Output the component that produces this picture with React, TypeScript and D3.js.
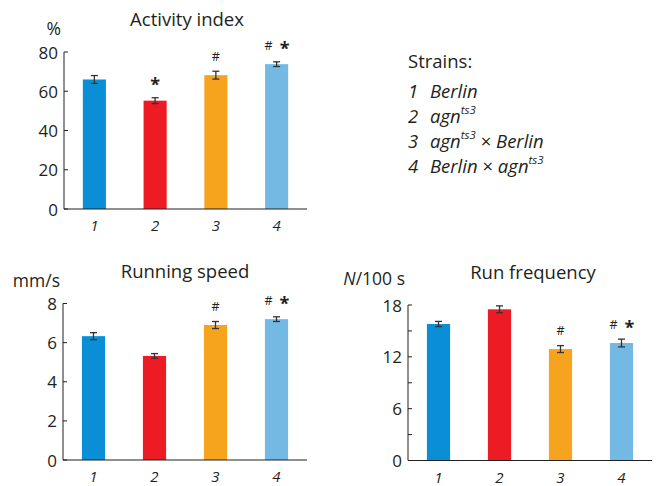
import React from "react";
import * as d3 from "d3";

const strains = ["1", "2", "3", "4"];
const colors = ["#0a8fd6", "#ed1c24", "#f6a41e", "#74b8e4"];

const activityValues = [66, 55.2, 68.2, 73.8];
const activityErrors = [2, 1.5, 2, 1.2];
const activityTicks = [0, 20, 40, 60, 80];
const activityMarks = ["", "*", "#", "# *"];

const speedValues = [6.33, 5.32, 6.9, 7.2];
const speedErrors = [0.18, 0.12, 0.18, 0.12];
const speedTicks = [0, 2, 4, 6, 8];
const speedMarks = ["", "", "#", "# *"];

const freqValues = [15.8, 17.5, 12.9, 13.6];
const freqErrors = [0.3, 0.4, 0.4, 0.45];
const freqTicks = [0, 3, 6, 9, 12, 15, 18];
const freqLabelTicks = [0, 6, 12, 18];
const freqMarks = ["", "", "#", "# *"];

const FONT = "'Open Sans', sans-serif";
const INK = "#231f20";

type PanelProps = {
  x0: number;
  x1: number;
  yTop: number;
  yBottom: number;
  max: number;
  values: number[];
  errors: number[];
  ticks: number[];
  labelTicks: number[];
  marks: string[];
  title: string;
  titleX: number;
  titleY: number;
  unit: React.ReactNode;
  unitY: number;
};

function Panel(p: PanelProps) {
  const x = d3.scaleBand<string>().domain(strains).range([p.x0, p.x1]).paddingInner(0.62).paddingOuter(0.31);
  const y = d3.scaleLinear().domain([0, p.max]).range([p.yBottom, p.yTop]);
  const bw = x.bandwidth();
  return (
    <g>
      <text x={p.titleX} y={p.titleY} textAnchor="middle" dominantBaseline="central" fontSize={18.5} fill={INK}>
        {p.title}
      </text>
      <text x={p.x0 - 3} y={p.unitY} textAnchor="end" dominantBaseline="central" fontSize={17.5} fill={INK}>
        {p.unit}
      </text>
      {p.values.map((v, i) => {
        const cx = (x(strains[i]) as number) + bw / 2;
        return (
          <g key={i}>
            <rect x={x(strains[i])} y={y(v)} width={bw} height={y(0) - y(v)} fill={colors[i]} />
            <line x1={cx} x2={cx} y1={y(v - p.errors[i])} y2={y(v + p.errors[i])} stroke="#333" strokeWidth={1.3} />
            <line x1={cx - 3.5} x2={cx + 3.5} y1={y(v - p.errors[i])} y2={y(v - p.errors[i])} stroke="#333" strokeWidth={1.3} />
            <line x1={cx - 3.5} x2={cx + 3.5} y1={y(v + p.errors[i])} y2={y(v + p.errors[i])} stroke="#333" strokeWidth={1.3} />
            {p.marks[i] === "# *" ? (
              <g>
                <text x={cx - 8} y={y(v) - 19} textAnchor="middle" dominantBaseline="central" fontSize={12.5} fill={INK}>#</text>
                <text x={cx + 8} y={y(v) - 16.5} textAnchor="middle" dominantBaseline="central" fontSize={18} fontWeight="bold" fill={INK}>*</text>
              </g>
            ) : p.marks[i] === "*" ? (
              <text x={cx} y={y(v) - 16.5} textAnchor="middle" dominantBaseline="central" fontSize={18} fontWeight="bold" fill={INK}>*</text>
            ) : p.marks[i] === "#" ? (
              <text x={cx} y={y(v) - 19} textAnchor="middle" dominantBaseline="central" fontSize={12.5} fill={INK}>#</text>
            ) : null}
            <text x={cx} y={p.yBottom + 16} textAnchor="middle" dominantBaseline="central" fontSize={15} fontStyle="italic" fill={INK}>
              {strains[i]}
            </text>
          </g>
        );
      })}
      <line x1={p.x0} x2={p.x0} y1={p.yTop} y2={p.yBottom} stroke={INK} strokeWidth={1} />
      <line x1={p.x0} x2={p.x1} y1={p.yBottom} y2={p.yBottom} stroke={INK} strokeWidth={1.2} />
      {p.ticks.map((t) => (
        <line key={t} x1={p.x0} x2={p.x0 + 4} y1={y(t)} y2={y(t)} stroke={INK} strokeWidth={1} />
      ))}
      {p.labelTicks.map((t) => (
        <text key={t} x={p.x0 - 6} y={y(t)} textAnchor="end" dominantBaseline="central" fontSize={17} fill={INK}>
          {t}
        </text>
      ))}
    </g>
  );
}

const legendItems: React.ReactNode[] = [
  <tspan>Berlin</tspan>,
  <tspan>agn<tspan fontSize={11.5} dy={-6}>ts3</tspan></tspan>,
  <tspan>agn<tspan fontSize={11.5} dy={-6}>ts3</tspan><tspan dy={6} fontStyle="normal"> × </tspan>Berlin</tspan>,
  <tspan>Berlin<tspan fontStyle="normal"> × </tspan>agn<tspan fontSize={11.5} dy={-6}>ts3</tspan></tspan>,
];

export default function App() {
  return (
    <svg width={658} height={486} style={{ position: "absolute", left: 0, top: 0 }} fontFamily={FONT}>
      <rect width={658} height={486} fill="#fff" />
      <Panel
        x0={64} x1={307} yTop={52} yBottom={209} max={80}
        values={activityValues} errors={activityErrors} ticks={activityTicks} labelTicks={activityTicks}
        marks={activityMarks} title="Activity index" titleX={187} titleY={18} unit="%" unitY={28}
      />
      <Panel
        x0={63} x1={307} yTop={303.5} yBottom={460} max={8}
        values={speedValues} errors={speedErrors} ticks={speedTicks} labelTicks={speedTicks}
        marks={speedMarks} title="Running speed" titleX={185} titleY={270} unit="mm/s" unitY={280}
      />
      <Panel
        x0={408} x1={652} yTop={305} yBottom={460.5} max={18}
        values={freqValues} errors={freqErrors} ticks={freqTicks} labelTicks={freqLabelTicks}
        marks={freqMarks} title="Run frequency" titleX={533} titleY={271}
        unit={<tspan><tspan fontStyle="italic">N</tspan>/100 s</tspan>} unitY={278}
      />
      <text x={408} y={60} dominantBaseline="central" fontSize={18.5} fill={INK}>Strains:</text>
      {legendItems.map((item, i) => (
        <g key={i}>
          <text x={408} y={90 + i * 25} dominantBaseline="central" fontSize={18.5} fontStyle="italic" fill={INK}>
            {strains[i]}
          </text>
          <text x={430} y={90 + i * 25} dominantBaseline="central" fontSize={18.5} fontStyle="italic" fill={INK}>
            {item}
          </text>
        </g>
      ))}
    </svg>
  );
}
